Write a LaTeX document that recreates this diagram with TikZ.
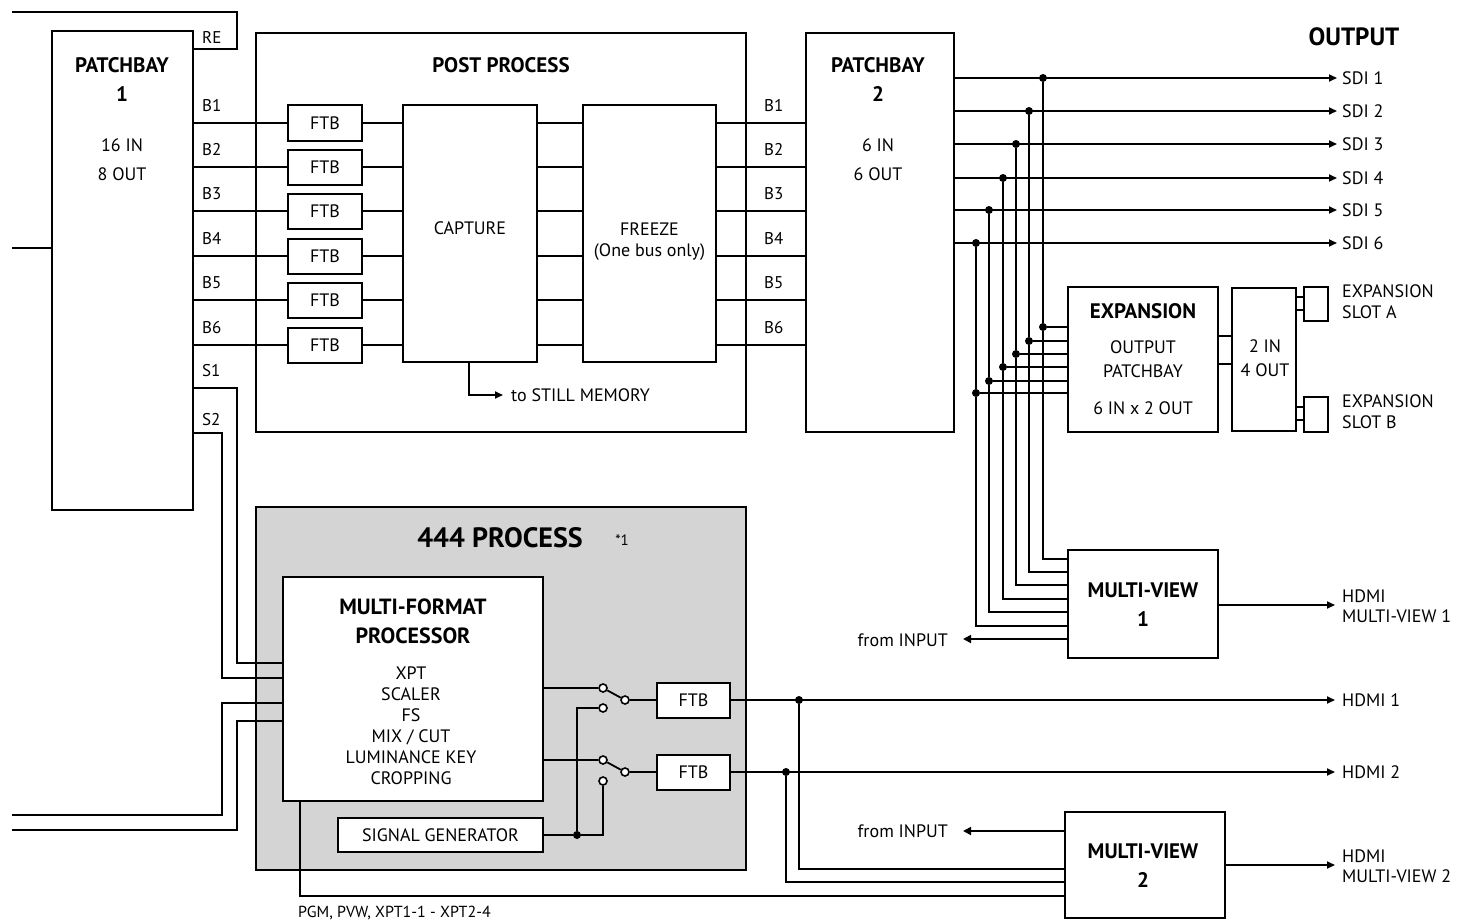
\documentclass[tikz,border=0pt]{standalone}
\usepackage{fontspec}
\setmainfont{PT Sans}
\usetikzlibrary{arrows.meta}
\newcommand\txn{\fontsize{18}{21}\selectfont}
\newcommand\txb{\fontsize{21}{29}\selectfont\bfseries}
\newcommand\txs{\fontsize{17}{20}\selectfont}
\begin{document}
\begin{tikzpicture}[x=1pt,y=-1pt,
  box/.style={draw,line width=2.6pt,inner sep=0pt,fill=white},
  sbox/.style={draw,line width=2pt,inner sep=0pt,fill=white},
  ln/.style={line width=1.8pt},
  arr/.style={ln,-{Triangle[length=8pt,width=7pt]}},
  dot/.style={circle,fill=black,inner sep=0pt,minimum size=8pt},
  ctc/.style={circle,draw,line width=1.6pt,fill=white,inner sep=0pt,minimum size=8pt},
  t/.style={font=\txn,inner sep=0pt,align=center},
  tb/.style={font=\txb,inner sep=0pt,align=center},
  ts/.style={font=\txs,inner sep=0pt,anchor=west}]
\useasboundingbox (0,0) rectangle (1471,923);
% ---------- PATCHBAY 1
\node[box,minimum width=141pt,minimum height=479pt] (pb1) at (122.5,270.5) {};
\node[tb] at (122,80) {PATCHBAY\\1};
\node[t,align=center,font=\fontsize{18}{29}\selectfont] at (122,160) {16 IN\\8 OUT};
\draw[ln] (12,12) -| (237,49) -- (pb1.east |- 0,49);
\node[ts] at (202,37) {RE};
\draw[ln] (12,248) -- (pb1.west |- 0,248);
% ---------- POST PROCESS
\node[box,minimum width=490pt,minimum height=399pt] (pp) at (501,232.5) {};
\node[tb] at (501,65) {POST PROCESS};
\node[sbox,minimum width=134pt,minimum height=257pt] (cap) at (470,233.5) {};
\node[t] at (470,228) {CAPTURE};
\node[sbox,minimum width=133pt,minimum height=257pt] (frz) at (649.5,233.5) {};
\node[t] at (649.5,242) {FREEZE\\(One bus only)};
% ---------- PATCHBAY 2
\node[box,minimum width=148pt,minimum height=399pt] (pb2) at (880,232.5) {};
\node[tb] at (878,80) {PATCHBAY\\2};
\node[t,font=\fontsize{18}{29}\selectfont] at (878,160) {6 IN\\6 OUT};
% bus lines
\foreach \i/\y in {1/123,2/167,3/211,4/256,5/300,6/345}{
  \node[sbox,minimum width=74pt,minimum height=35pt] (ftb\i) at (325,\y) {};
  \node[t] at (325,\y) {FTB};
  \draw[ln] (pb1.east |- 0,\y) -- (ftb\i.west);
  \draw[ln] (ftb\i.east) -- (cap.west |- 0,\y);
  \draw[ln] (cap.east |- 0,\y) -- (frz.west |- 0,\y);
  \draw[ln] (frz.east |- 0,\y) -- (pb2.west |- 0,\y);
  \node[ts] at (202,\y-17) {B\i};
  \node[ts] at (764,\y-17) {B\i};
}
\coordinate (stm) at (503,395);
\draw[arr] (cap.south -| 469,0) |- (stm);
\node[t,anchor=west] at (511,395) {to STILL MEMORY};
\node[ts] at (202,371) {S1};
\node[ts] at (202,420) {S2};
% ---------- 444 PROCESS
\node[box,fill=black!17,minimum width=490pt,minimum height=363pt] (p444) at (501,688.5) {};
\node[tb,font=\fontsize{28}{30}\selectfont\bfseries] at (500,538) {444 PROCESS};
\node[t,font=\fontsize{15}{17}\selectfont] at (622,540) {*1};
\node[sbox,minimum width=260pt,minimum height=224pt] (mfp) at (413,689) {};
\node[tb,font=\fontsize{22}{29}\selectfont\bfseries] at (413,621) {MULTI-FORMAT\\PROCESSOR};
\node[t,font=\fontsize{18}{21}\selectfont] at (411,726) {XPT\\SCALER\\FS\\MIX / CUT\\LUMINANCE KEY\\CROPPING};
\node[sbox,minimum width=205pt,minimum height=34pt] (sg) at (440.5,835) {};
\node[t] at (440.5,835) {SIGNAL GENERATOR};
% S1/S2 routing
\draw[ln] (pb1.east |- 0,388) -| (237,663) -- (mfp.west |- 0,663);
\draw[ln] (pb1.east |- 0,433) -| (222,678) -- (mfp.west |- 0,678);
\draw[ln] (mfp.west |- 0,703) -| (222,815) -- (12,815);
\draw[ln] (mfp.west |- 0,721) -| (237,830) -- (12,830);
% switches
\node[sbox,minimum width=73pt,minimum height=35pt] (f1) at (693.5,700.5) {};
\node[t] at (693.5,700.5) {FTB};
\node[sbox,minimum width=73pt,minimum height=35pt] (f2) at (693.5,772.5) {};
\node[t] at (693.5,772.5) {FTB};
\node[ctc] (a1) at (603,688) {};
\node[ctc] (b1) at (603,708) {};
\node[ctc] (p1) at (625,700) {};
\node[ctc] (a2) at (603,760) {};
\node[ctc] (b2) at (603,781) {};
\node[ctc] (p2) at (625,772) {};
\draw[ln] (mfp.east |- a1) -- (a1);
\draw[ln] (mfp.east |- a2) -- (a2);
\draw[ln] (a1) -- (p1);
\draw[ln] (a2) -- (p2);
\draw[ln] (p1) -- (f1.west |- p1);
\draw[ln] (p2) -- (f2.west |- p2);
\node[dot] (sj) at (577,835) {};
\draw[ln] (sg.east) -- (sj);
\draw[ln] (sj) |- (b1);
\draw[ln] (sj) -- (603,835) -- (b2);
% ---------- outputs
\node[tb,font=\fontsize{25}{28}\selectfont\bfseries] at (1354,37) {OUTPUT};
\foreach \i/\y/\x in {1/78/1043,2/111/1029,3/144/1016,4/178/1003,5/210/989,6/243/976}{
  \coordinate (sdi\i) at (1337,\y);
  \draw[arr] (pb2.east |- 0,\y) -- (sdi\i);
  \node[ts,font=\txn] at (1342,\y) {SDI \i};
  \node[dot] (d\i) at (\x,\y) {};
}
\node[box,minimum width=150pt,minimum height=145pt] (exp) at (1143,359.5) {};
\node[tb] at (1143,311) {EXPANSION};
\node[t,font=\fontsize{18}{24}\selectfont] at (1143,359) {OUTPUT\\PATCHBAY};
\node[t] at (1143,408) {6 IN x 2 OUT};
\node[box,minimum width=64pt,minimum height=143pt] (two) at (1264,359.5) {};
\node[t,font=\fontsize{18}{24}\selectfont] at (1265,358) {2 IN\\4 OUT};
\draw[ln] (exp.east |- 0,336) -- (two.west |- 0,336);
\draw[ln] (exp.east |- 0,364) -- (two.west |- 0,364);
\node[sbox,minimum width=24pt,minimum height=34pt] (sa) at (1316,304) {};
\node[sbox,minimum width=24pt,minimum height=35pt] (sb) at (1316,414.5) {};
\draw[ln] (two.east |- 0,297) -- (sa.west |- 0,297);
\draw[ln] (two.east |- 0,310) -- (sa.west |- 0,310);
\draw[ln] (two.east |- 0,407) -- (sb.west |- 0,407);
\draw[ln] (two.east |- 0,420) -- (sb.west |- 0,420);
\node[ts,font=\fontsize{18}{21}\selectfont,align=left] at (1342,302) {EXPANSION\\SLOT A};
\node[ts,font=\fontsize{18}{21}\selectfont,align=left] at (1342,412) {EXPANSION\\SLOT B};
\node[box,minimum width=150pt,minimum height=108pt] (mv1) at (1143,604) {};
\node[tb] at (1143,605) {MULTI-VIEW\\1};
\foreach \i/\ye/\ym in {1/327/559,2/341/572,3/354/585,4/367/599,5/381/612,6/393/626}{
  \node[dot] (e\i) at (d\i |- 0,\ye) {};
  \draw[ln] (d\i) -- (e\i);
  \draw[ln] (e\i) -- (exp.west |- e\i);
  \draw[ln] (e\i) |- (mv1.west |- 0,\ym);
}
\draw[ln,{Triangle[length=8pt,width=8pt]}-] (963,639) -- (mv1.west |- 0,639);
\node[t,anchor=east] at (948,640) {from INPUT};
\coordinate (hm1) at (1335,605);
\draw[arr] (mv1.east |- hm1) -- (hm1);
\node[ts,font=\fontsize{18}{20}\selectfont,align=left] at (1342,606) {HDMI\\MULTI-VIEW 1};
% HDMI
\coordinate (h1) at (1335,700);
\coordinate (h2) at (1335,772);
\draw[arr] (f1.east |- h1) -- (h1);
\draw[arr] (f2.east |- h2) -- (h2);
\node[ts,font=\txn] at (1342,700) {HDMI 1};
\node[ts,font=\txn] at (1342,772) {HDMI 2};
\node[box,minimum width=160pt,minimum height=106pt] (mv2) at (1145,865) {};
\node[tb] at (1143,866) {MULTI-VIEW\\2};
\node[dot] (j1) at (799,700) {};
\node[dot] (j2) at (786,772) {};
\draw[ln] (j1) |- (mv2.west |- 0,869);
\draw[ln] (j2) |- (mv2.west |- 0,882);
\draw[ln] (mfp.south -| 300,0) |- (mv2.west |- 0,896);
\draw[ln,{Triangle[length=8pt,width=8pt]}-] (963,831) -- (mv2.west |- 0,831);
\node[t,anchor=east] at (948,831) {from INPUT};
\coordinate (hm2) at (1335,865);
\draw[arr] (mv2.east |- hm2) -- (hm2);
\node[ts,font=\fontsize{18}{20}\selectfont,align=left] at (1342,866) {HDMI\\MULTI-VIEW 2};
\node[t,anchor=west,font=\fontsize{16}{18}\selectfont] at (298,913) {PGM, PVW, XPT1-1 - XPT2-4};
\end{tikzpicture}
\end{document}
